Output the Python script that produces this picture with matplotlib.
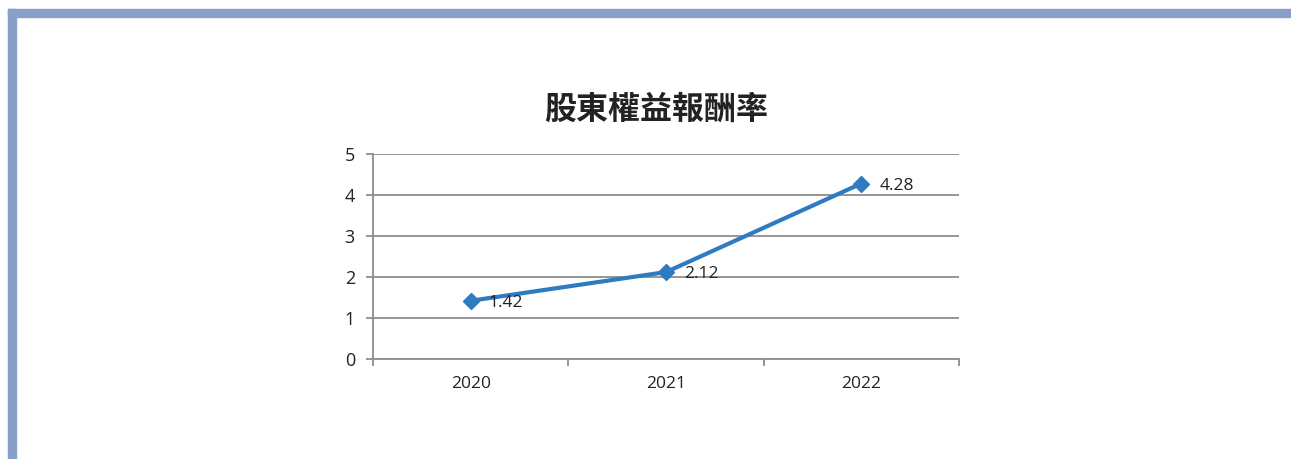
import matplotlib.pyplot as plt
from matplotlib.patches import Rectangle
import numpy as np

plt.rcParams['font.family'] = ['Open Sans', 'Noto Sans CJK TC', 'DejaVu Sans']

years = ['2020', '2021', '2022']
roe = [1.42, 2.12, 4.28]
labels = ['1.42', '2.12', '4.28']
title = '股東權益報酬率'

W, H = 1291, 459
fig = plt.figure(figsize=(W / 100, H / 100), dpi=100)

# frame border (top and left bars)
border = '#88a0c8'
fig.patches.append(Rectangle((8 / W, 1 - 17 / H), 1 - 8 / W, 8 / H,
                             transform=fig.transFigure, color=border, zorder=0))
fig.patches.append(Rectangle((8 / W, 0), 8 / W, 1 - 9 / H,
                             transform=fig.transFigure, color=border, zorder=0))

ax = fig.add_axes([373 / W, 1 - 359 / H, (959 - 373) / W, (359 - 154) / H])
x = np.arange(len(years))
ax.plot(x, roe, color='#2f7bc2', lw=3, marker='D', markersize=8, zorder=3)
for xi, yi, t in zip(x, roe, labels):
    ax.annotate(t, (xi, yi), xytext=(13, -1.5), textcoords='offset points',
                va='center', ha='left', fontsize=12.5, color='#222222')

ax.set_xlim(-0.5, 2.5)
ax.set_ylim(0, 5)
ax.set_yticks(range(6))
ax.grid(axis='y', color='#8e8e8e', lw=1.3)
ax.set_axisbelow(True)
for s in ['top', 'right']:
    ax.spines[s].set_visible(False)
for s in ['left', 'bottom']:
    ax.spines[s].set_color('#8e8e8e')
    ax.spines[s].set_linewidth(1.3)

ax.set_xticks(x)
ax.set_xticklabels(years)
ax.set_xticks([-0.5, 0.5, 1.5, 2.5], minor=True)
ax.tick_params(axis='x', which='major', length=0, pad=12, labelsize=12.5, colors='#222222')
ax.tick_params(axis='x', which='minor', length=5, color='#8e8e8e', width=1.3)
ax.tick_params(axis='y', length=5, color='#8e8e8e', width=1.3, pad=8,
               labelsize=13, labelcolor='#222222')

fig.text(656 / W, 1 - 110 / H, title, ha='center', va='center',
         fontsize=23, fontweight='bold', family=['Noto Sans CJK TC', 'DejaVu Sans'],
         color='#222222')

fig.savefig('out.png', dpi=100)
